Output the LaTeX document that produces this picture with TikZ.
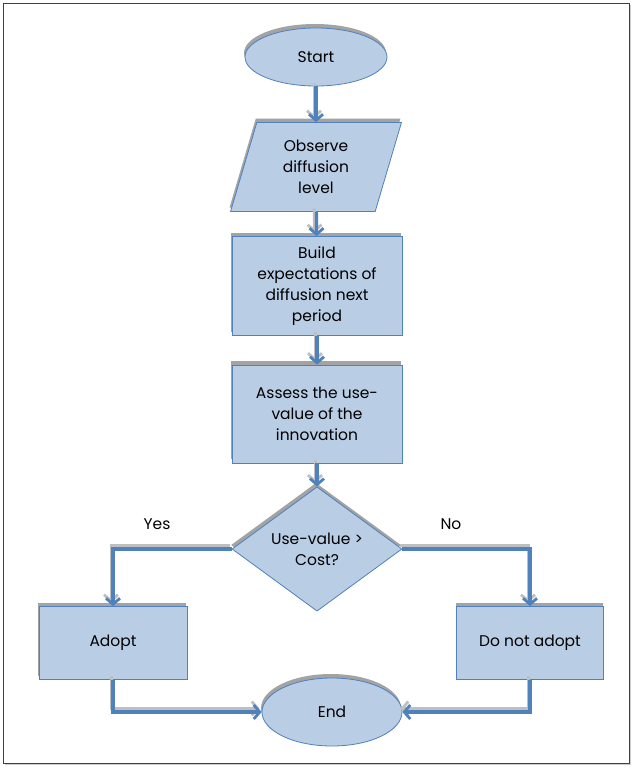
\documentclass[tikz,border=0pt]{standalone}
\usepackage{fontspec}
\setmainfont{Poppins}
\usepackage{tikz}
\usetikzlibrary{arrows.meta, positioning, shapes.geometric, shadows}
\definecolor{boxfill}{HTML}{B9CDE5}
\definecolor{boxline}{HTML}{4F81BD}
\tikzset{myshadow/.style = {drop shadow={shadow xshift=-1pt, shadow yshift=4pt, fill=black!60, opacity=.6}},
  flowbox/.style = {draw=boxline, fill=boxfill, line width=.8pt, myshadow, align=center, font=\fontsize{15.5}{21}\selectfont},
  termbox/.style = {flowbox, ellipse, inner sep=0pt},
  iobox/.style = {flowbox, trapezium, trapezium left angle=75, trapezium right angle=105, trapezium stretches=true},
  decbox/.style = {flowbox, diamond, inner sep=0pt},
  flowline/.style = {draw=boxline, line width=3.2pt, -{Straight Barb[length=6pt,width=14pt,line width=2.8pt]},
    preaction={draw=black!25, line width=3pt, transform canvas={xshift=-2pt, yshift=3.5pt}}},
  branchlbl/.style = {font=\fontsize{15.5}{18}\selectfont}
}
\begin{document}
\begin{tikzpicture}[x=1pt, y=-1pt]
\useasboundingbox (0,0) rectangle (635,769);
% frame
\draw[black!75, line width=.8pt, fill=white, drop shadow={shadow xshift=2pt, shadow yshift=-2pt, fill=black!40}] (3,3) rectangle (629,763);

\node[termbox, minimum width=142pt, minimum height=58pt] (start) at (316,57) {Start};
\node[iobox, minimum width=171pt, minimum height=89pt] (obs) at (316,167) {Observe\\diffusion\\level};
\node[flowbox, minimum width=170pt, minimum height=99pt] (build) at (317,286) {Build\\expectations of\\diffusion next\\period};
\node[flowbox, minimum width=170pt, minimum height=98pt] (assess) at (317,414) {Assess the use-\\value of the\\innovation};
\node[decbox, minimum width=170pt, minimum height=114pt] (dec) at (317,549) {Use-value >\\Cost?};
\node[flowbox, minimum width=148pt, minimum height=73pt] (adopt) at (113,643) {Adopt};
\node[flowbox, minimum width=147pt, minimum height=73pt] (notad) at (530,643) {Do not adopt};
\node[termbox, minimum width=140pt, minimum height=68pt] (end) at (332,712) {End};

\draw[flowline] (start) -- (obs);
\draw[flowline] (obs) -- (build);
\draw[flowline] (build) -- (assess);
\draw[flowline] (assess) -- (dec);
\draw[flowline] (dec.west) -| (adopt.north);
\draw[flowline] (dec.east) -| (notad.north);
\draw[flowline] (adopt.south) |- (end.west);
\draw[flowline] (notad.south) |- (end.east);

\node[branchlbl] (yes) at (157,524) {Yes};
\node[branchlbl] (no) at (451,524) {No};
\end{tikzpicture}
\end{document}
